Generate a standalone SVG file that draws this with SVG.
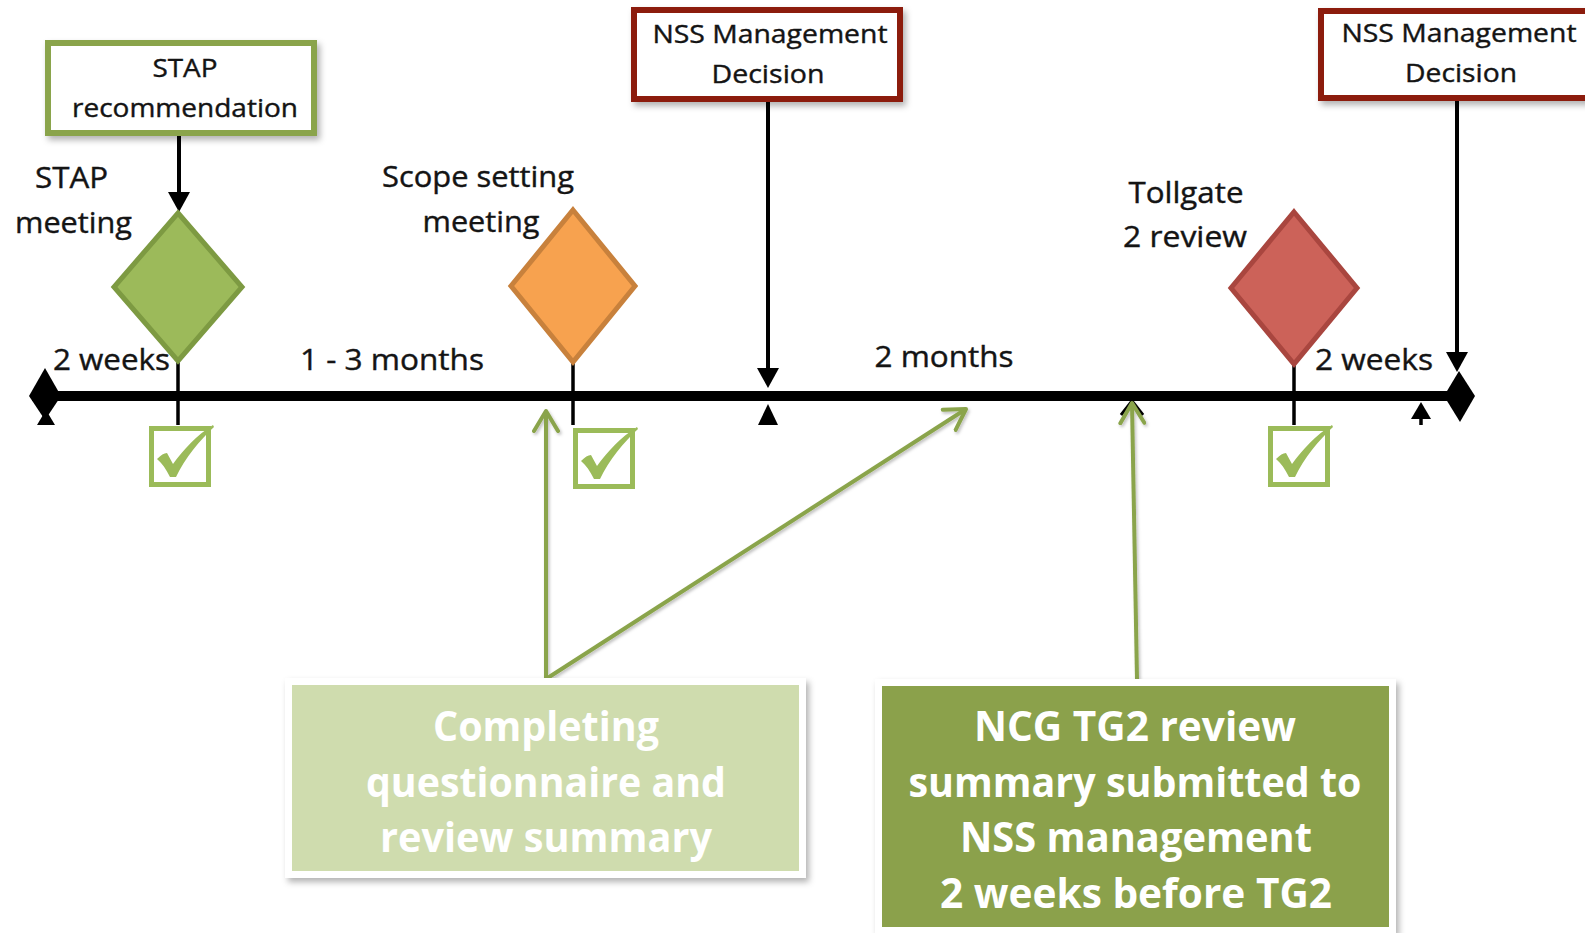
<svg xmlns="http://www.w3.org/2000/svg" xmlns:xlink="http://www.w3.org/1999/xlink" width="1585" height="933" viewBox="0 0 1585 933">
<style>
.lbl{font-family:"Open Sans","Liberation Sans",sans-serif;font-size:29px;fill:#141414;stroke:#141414;stroke-width:0.4;text-anchor:middle}
.bx{font-family:"Open Sans","Liberation Sans",sans-serif;font-size:26px;fill:#141414;stroke:#141414;stroke-width:0.4;text-anchor:middle}
.big{font-family:"Open Sans","Liberation Sans",sans-serif;font-size:41px;font-weight:bold;fill:#ffffff;text-anchor:middle}
.blk{stroke:#000;stroke-width:4;fill:none}
.stem{stroke:#000;stroke-width:3.5;fill:none}
.garr{stroke:#8aa44b;stroke-width:4;fill:none}
</style>
<defs>
<filter id="sh" x="-10%" y="-10%" width="130%" height="140%">
<feDropShadow dx="3" dy="4" stdDeviation="3" flood-color="#000" flood-opacity="0.3"/>
</filter>
<filter id="sh2" x="-20%" y="-20%" width="140%" height="140%">
<feDropShadow dx="1.5" dy="2" stdDeviation="1.5" flood-color="#000" flood-opacity="0.25"/>
</filter>
<marker id="ah" viewBox="0 0 20 22" refX="0" refY="11" markerWidth="20" markerHeight="22" markerUnits="userSpaceOnUse" orient="auto">
<path d="M0,0 L20,11 L0,22 z" fill="#000"/>
</marker>
<marker id="gh" viewBox="-2 -2 26 28" refX="20" refY="12" markerWidth="26" markerHeight="28" markerUnits="userSpaceOnUse" orient="auto">
<path d="M0,0 L20,12 L0,24" fill="none" stroke="#8aa44b" stroke-width="4" stroke-linecap="round" stroke-linejoin="round"/>
</marker>
<g id="chk">
<rect x="2.5" y="2.5" width="57" height="56" fill="#fff" stroke="#9bbb59" stroke-width="5"/>
<path d="M8,33 C12,29 15,27 18,27 L24,38 C34,24 48,9 64,-1 L65,1 C51,14 36,32 27,51 L21,51 C17,43 13,37 8,33 Z" fill="#9bbb59"/>
</g>
</defs>
<rect width="1585" height="933" fill="#fff"/>

<g id="timeline">
<line x1="32" y1="396" x2="1455" y2="396" stroke="#000" stroke-width="10"/>
<polygon points="29,396 45,368 61,396 45,420" fill="#000"/>
<polygon points="37,425 46,410 55,425" fill="#000"/>
<polygon points="1444,396 1459,371 1475,396 1460,422" fill="#000"/>
</g>

<g id="connectors">
<line class="blk" x1="179" y1="136" x2="179" y2="192" marker-end="url(#ah)"/>
<line class="blk" x1="768" y1="102" x2="768" y2="368" marker-end="url(#ah)"/>
<line class="blk" x1="1457" y1="100" x2="1457" y2="352" marker-end="url(#ah)"/>
<polygon points="768,404 758,425 778,425" fill="#000"/>
<polygon points="1421,402 1411,419 1431,419" fill="#000"/>
<line class="stem" x1="1421" y1="418" x2="1421" y2="425"/>
<polyline points="1121,415 1132,401 1143,415" fill="none" stroke="#000" stroke-width="3"/>
<line class="stem" x1="178" y1="358" x2="178" y2="425"/>
<line class="stem" x1="573" y1="359" x2="573" y2="425"/>
<line class="stem" x1="1294" y1="361" x2="1294" y2="425"/>
<g filter="url(#sh2)">
<line class="garr" x1="546" y1="679" x2="546" y2="411" marker-end="url(#gh)"/>
<line class="garr" x1="546" y1="679" x2="966" y2="409" marker-end="url(#gh)"/>
<line class="garr" x1="1137" y1="679" x2="1132" y2="403" marker-end="url(#gh)"/>
</g>
</g>

<g id="stap-rec">
<rect x="48" y="43" width="266" height="90" fill="#fff" stroke="#8aa44b" stroke-width="6" filter="url(#sh)"/>
<text class="bx" x="185" y="77" textLength="65" lengthAdjust="spacingAndGlyphs">STAP</text>
<text class="bx" x="185" y="117" textLength="226" lengthAdjust="spacingAndGlyphs">recommendation</text>
</g>

<g id="nss-decision-1">
<rect x="634" y="10" width="266" height="89" fill="#fff" stroke="#8c1a10" stroke-width="6" filter="url(#sh)"/>
<text class="bx" x="770" y="43" textLength="235" lengthAdjust="spacingAndGlyphs">NSS Management</text>
<text class="bx" x="768" y="83" textLength="113" lengthAdjust="spacingAndGlyphs">Decision</text>
</g>

<g id="nss-decision-2">
<rect x="1321" y="11" width="290" height="87" fill="#fff" stroke="#8c1a10" stroke-width="6" filter="url(#sh)"/>
<text class="bx" x="1459" y="42" textLength="235" lengthAdjust="spacingAndGlyphs">NSS Management</text>
<text class="bx" x="1461" y="82" textLength="112" lengthAdjust="spacingAndGlyphs">Decision</text>
</g>

<g id="stap-meeting">
<polygon points="178,213 242,287 178,361 114,287" fill="#9cba5a" stroke="#7d9a42" stroke-width="5" stroke-linejoin="miter"/>
<text class="lbl" x="71.5" y="188" textLength="73" lengthAdjust="spacingAndGlyphs">STAP</text>
<text class="lbl" x="73.5" y="233" textLength="117" lengthAdjust="spacingAndGlyphs">meeting</text>
</g>

<g id="scope-meeting">
<polygon points="573,210 635,286 573,362 511,286" fill="#f7a24f" stroke="#c8813c" stroke-width="5"/>
<text class="lbl" x="478" y="187" textLength="192" lengthAdjust="spacingAndGlyphs">Scope setting</text>
<text class="lbl" x="481" y="232" textLength="117" lengthAdjust="spacingAndGlyphs">meeting</text>
</g>

<g id="tollgate-2">
<polygon points="1294,212 1357,288 1294,364 1231,288" fill="#cc6259" stroke="#a9463f" stroke-width="5"/>
<text class="lbl" x="1186" y="203" textLength="115" lengthAdjust="spacingAndGlyphs">Tollgate</text>
<text class="lbl" x="1185" y="247" textLength="124" lengthAdjust="spacingAndGlyphs">2 review</text>
</g>

<g id="durations">
<text class="lbl" x="111.5" y="370" textLength="117" lengthAdjust="spacingAndGlyphs">2 weeks</text>
<text class="lbl" x="392" y="370" textLength="184" lengthAdjust="spacingAndGlyphs">1 - 3 months</text>
<text class="lbl" x="944" y="367" textLength="139" lengthAdjust="spacingAndGlyphs">2 months</text>
<text class="lbl" x="1374" y="370" textLength="118" lengthAdjust="spacingAndGlyphs">2 weeks</text>
</g>

<g id="checks">
<use xlink:href="#chk" href="#chk" x="149" y="426"/>
<use xlink:href="#chk" href="#chk" x="573" y="428"/>
<use xlink:href="#chk" href="#chk" x="1268" y="426"/>
</g>

<g id="questionnaire-box">
<rect x="288.5" y="681.5" width="514" height="193" fill="#cfdcae" stroke="#fff" stroke-width="7" filter="url(#sh)"/>
<text class="big" x="546" y="741" textLength="226" lengthAdjust="spacingAndGlyphs">Completing</text>
<text class="big" x="546" y="797" textLength="360" lengthAdjust="spacingAndGlyphs">questionnaire and</text>
<text class="big" x="546" y="852" textLength="332" lengthAdjust="spacingAndGlyphs">review summary</text>
</g>

<g id="ncg-box">
<rect x="878.5" y="682.5" width="514" height="248" fill="#8ba14c" stroke="#fff" stroke-width="7" filter="url(#sh)"/>
<text class="big" x="1135" y="741" textLength="322" lengthAdjust="spacingAndGlyphs">NCG TG2 review</text>
<text class="big" x="1135" y="797" textLength="453" lengthAdjust="spacingAndGlyphs">summary submitted to</text>
<text class="big" x="1136" y="852" textLength="352" lengthAdjust="spacingAndGlyphs">NSS management</text>
<text class="big" x="1136" y="908" textLength="392" lengthAdjust="spacingAndGlyphs">2 weeks before TG2</text>
</g>
</svg>
